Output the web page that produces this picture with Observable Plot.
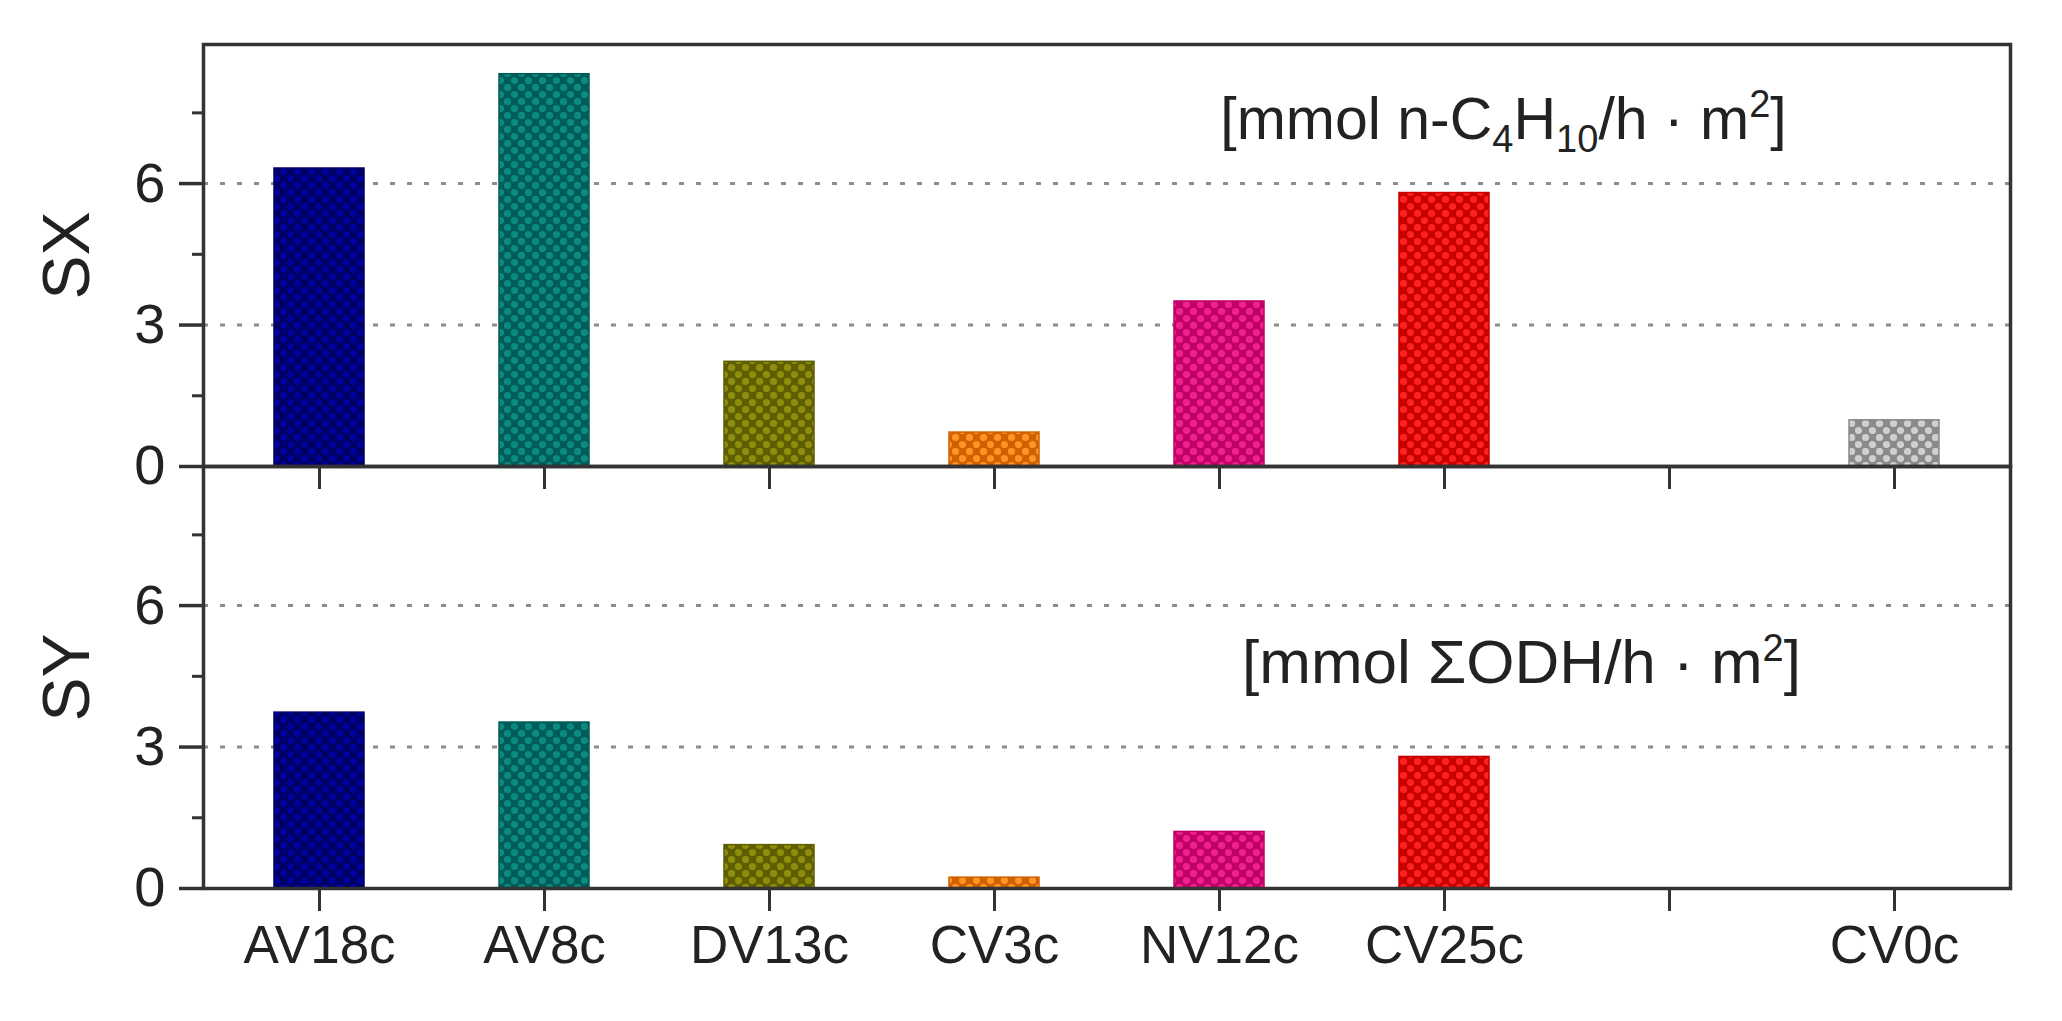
<!DOCTYPE html>
<html>
<head>
<meta charset="utf-8">
<script src="https://cdn.jsdelivr.net/npm/d3@7"></script>
<script src="https://cdn.jsdelivr.net/npm/@observablehq/plot@0.6"></script>
<style>
  html, body { margin: 0; padding: 0; background: #ffffff; }
  #chart { width: 2062px; height: 1021px; }
</style>
</head>
<body>
<div id="chart"></div>
<script>
// ---- data ----
const categories = ["AV18c", "AV8c", "DV13c", "CV3c", "NV12c", "CV25c", "", "CV0c"];
const panels = ["SX", "SY"];
const sxValues = [6.32, 8.32, 2.22, 0.72, 3.50, 5.80, null, 0.98];
const syValues = [3.73, 3.52, 0.92, 0.23, 1.20, 2.79, null, null];
const baseColors  = ["#000064", "#005c58", "#5e5e00", "#d06000", "#c0006a", "#c80000", "#ffffff", "#8a8a8a"];
const spotColors  = ["#00009c", "#0a8a82", "#8e8e0c", "#ff9424", "#f0228a", "#ff2020", "#ffffff", "#cfcfcf"];
const majorTicks = [0, 3, 6];
const minorTicks = [1.5, 4.5, 7.5];
const gridValues = [3, 6];
const unitLabels = ["[mmol n-C4H10/h · m2]", "[mmol ΣODH/h · m2]"];
const unitParts = [
  [{t: "[mmol n-C"}, {t: "4", sub: true}, {t: "H"}, {t: "10", sub: true}, {t: "/h · m"}, {t: "2", sup: true}, {t: "]"}],
  [{t: "[mmol ΣODH/h · m"}, {t: "2", sup: true}, {t: "]"}]
];

// ---- table built from the arrays ----
const rows = [];
categories.forEach((c, i) => {
  if (sxValues[i] != null) rows.push({cat: c, panel: "SX", value: sxValues[i], idx: i});
  if (syValues[i] != null) rows.push({cat: c, panel: "SY", value: syValues[i], idx: i});
});
const annotTop = [{panel: panels[0], label: unitLabels[0], yv: 7.34}];
const annotBottom = [{panel: panels[1], label: unitLabels[1], yv: 4.77}];

const font = "'Liberation Sans', Arial, Helvetica, sans-serif";

const chart = Plot.plot({
  width: 2062,
  height: 1021,
  marginTop: 44,
  marginBottom: 133,
  marginLeft: 203,
  marginRight: 52,
  style: {fontFamily: font, background: "#ffffff", color: "#222"},
  x: {domain: categories, paddingInner: 0.6, paddingOuter: 0.3, axis: null},
  y: {domain: [0, 8.95], axis: null},
  fy: {domain: panels, padding: 0, axis: null},
  color: {type: "identity"},
  marks: [
    Plot.ruleY(gridValues, {y: d => d, stroke: "#8c8c8c", strokeWidth: 3, strokeDasharray: "5,12"}),
    Plot.barY(rows, {
      x: "cat", y: "value", fy: "panel",
      fill: d => `url(#pat${d.idx})`,
      stroke: d => baseColors[d.idx],
      strokeWidth: 1.5
    }),
    Plot.frame({stroke: "#333", strokeWidth: 3.5}),
    Plot.axisY({ticks: majorTicks, tickSize: 24, tickPadding: 14, fontSize: 56, stroke: "#333", strokeWidth: 3.5, label: null}),
    Plot.axisY({ticks: minorTicks, tickSize: 11, tickFormat: () => "", stroke: "#333", strokeWidth: 3, label: null}),
    Plot.axisX({tickSize: 23, tickFormat: () => "", facetAnchor: null, stroke: "#333", strokeWidth: 3, label: null}),
    Plot.axisX({tickSize: 0, tickPadding: 37, fontSize: 53, label: null}),
    Plot.text(panels, {fy: d => d, text: d => d, frameAnchor: "left", textAnchor: "middle", dx: -136, rotate: -90, fontSize: 66, fill: "#222"}),
    Plot.text(annotTop, {fy: "panel", y: "yv", text: "label", frameAnchor: "left", dx: 1300, textAnchor: "middle", fontSize: 59, fill: "#222"}),
    Plot.text(annotBottom, {fy: "panel", y: "yv", text: "label", frameAnchor: "left", dx: 1318, textAnchor: "middle", fontSize: 62, fill: "#222"})
  ]
});

// patterns for the hatched bar fills
const svgns = "http://www.w3.org/2000/svg";
const defs = document.createElementNS(svgns, "defs");
baseColors.forEach((c, i) => {
  const p = document.createElementNS(svgns, "pattern");
  p.setAttribute("id", "pat" + i);
  p.setAttribute("patternUnits", "userSpaceOnUse");
  p.setAttribute("width", 14);
  p.setAttribute("height", 14);
  const r = document.createElementNS(svgns, "rect");
  r.setAttribute("width", 14); r.setAttribute("height", 14); r.setAttribute("fill", c);
  p.appendChild(r);
  [[3.5, 3.5], [10.5, 10.5]].forEach(([cx, cy]) => {
    const s = document.createElementNS(svgns, "circle");
    s.setAttribute("cx", cx); s.setAttribute("cy", cy); s.setAttribute("r", 3.6);
    s.setAttribute("fill", spotColors[i]);
    p.appendChild(s);
  });
  defs.appendChild(p);
});
const svgEl = chart.tagName.toLowerCase() === "svg" ? chart : chart.querySelector("svg");
svgEl.insertBefore(defs, svgEl.firstChild);

// rich text for the unit annotations (sub/superscripts)
svgEl.querySelectorAll("text").forEach(el => {
  const k = unitLabels.indexOf(el.textContent);
  if (k < 0) return;
  el.textContent = "";
  let shift = 0;
  unitParts[k].forEach(part => {
    const t = document.createElementNS(svgns, "tspan");
    t.textContent = part.t;
    const target = part.sub ? 13 : part.sup ? -22 : 0;
    if (target !== shift) { t.setAttribute("dy", target - shift); shift = target; }
    if (part.sub || part.sup) t.setAttribute("font-size", 38);
    el.appendChild(t);
  });
});

document.getElementById("chart").appendChild(chart);
</script>
</body>
</html>
